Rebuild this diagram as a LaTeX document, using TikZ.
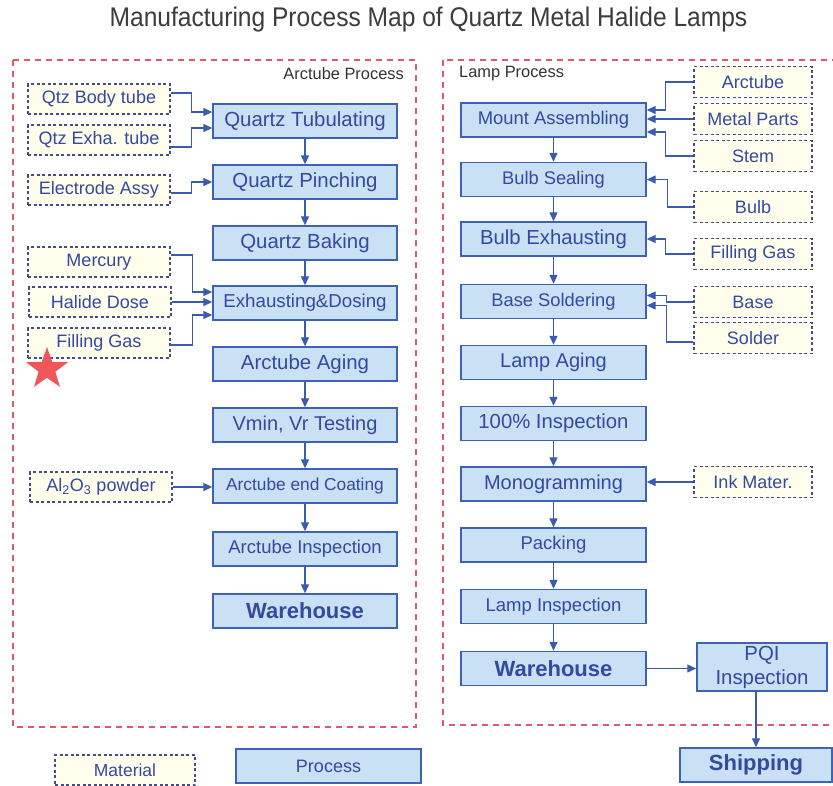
\documentclass[tikz,border=0pt]{standalone}
\usepackage{fontspec}
\setmainfont{Liberation Sans}
\usetikzlibrary{arrows.meta,shapes.geometric,calc}
\definecolor{procfill}{HTML}{C9E0F5}
\definecolor{procdraw}{HTML}{3D62B3}
\definecolor{txtblue}{HTML}{34499F}
\definecolor{matfill}{HTML}{FFFDEC}
\definecolor{matdraw}{HTML}{464C86}
\definecolor{framecol}{HTML}{DC5A6A}
\definecolor{conncol}{HTML}{3B5BAE}
\definecolor{titlegray}{HTML}{3C3C3C}
\definecolor{labgray}{HTML}{333333}
\definecolor{starred}{HTML}{F0555A}
\begin{document}
\begin{tikzpicture}[x=1pt,y=-1pt,
  fs/.style={font=\fontsize{#1}{#1}\selectfont},
  proc/.style={draw=procdraw, fill=procfill, line width=1.4pt, minimum width=184pt,
    minimum height=34pt, inner sep=0pt, text=txtblue, fs=18.5},
  procbold/.style={proc, font=\fontsize{22}{24}\selectfont\bfseries},
  mat/.style={draw=matdraw, fill=matfill, line width=1.3pt, dash pattern=on 3pt off 2.5pt,
    minimum width=142pt, minimum height=30pt, inner sep=0pt, text=txtblue, fs=18},
  rmat/.style={mat, minimum width=118pt, minimum height=31pt},
  arr/.style={draw=conncol, line width=1.3pt, -{Triangle[length=9pt,width=8pt]}},
  framebox/.style={draw=framecol, line width=1.4pt, dash pattern=on 6pt off 5pt},
  plab/.style={text=labgray, fs=16.4, inner sep=0pt}
]
\useasboundingbox (0,0) rectangle (833,785);
\fill[white] (0,0) rectangle (833,785);

% title
\node[text=titlegray, inner sep=0pt] (title) at (428.5,20)
  {\scalebox{0.91}[1]{\fontsize{27}{30}\selectfont Manufacturing Process Map of Quartz Metal Halide Lamps}};

% frames
\draw[framebox] (13,60) rectangle (416,727);
\draw[framebox] (443,60) rectangle (850,725);
\node[plab, anchor=east] (arclab) at (404,74) {Arctube Process};
\node[plab, anchor=west] (lamplab) at (459,74) {Lamp Process};

% left process column
\node[proc, fs=20.4] (ptub)   at (305,121) {Quartz Tubulating};
\node[proc, fs=20.4] (ppinch) at (305,182) {Quartz Pinching};
\node[proc, fs=20.4] (pbake)  at (305,243) {Quartz Baking};
\node[proc, fs=18.7] (pexh)   at (305,303) {Exhausting\&Dosing};
\node[proc, fs=20.4] (page)   at (305,364) {Arctube Aging};
\node[proc, fs=20]   (ptest)  at (305,425) {Vmin, Vr Testing};
\node[proc, fs=17.3] (pcoat)  at (305,486) {Arctube end Coating};
\node[proc, fs=18.5] (pinsp)  at (305,549) {Arctube Inspection};
\node[procbold]      (pware)  at (305,611) {Warehouse};

% left materials
\node[mat] (mbody) at (99,99)  {Qtz Body tube};
\node[mat] (mexha) at (99,140) {Qtz Exha. tube};
\node[mat] (melec) at (99,190) {Electrode Assy};
\node[mat] (mmerc) at (99,262) {Mercury};
\node[mat] (mhal)  at (100,302) {Halide Dose};
\node[mat] (mfill) at (99,343) {Filling Gas};
\node[mat] (malo)  at (101,487) {Al\textsubscript{2}O\textsubscript{3} powder};

\node[star, star points=5, star point ratio=2.5, fill=starred, minimum size=44pt, inner sep=0pt] (star) at (47,369) {};

% right process column
\node[proc, minimum width=185pt, fs=18.4] (pmount) at (553.5,120) {Mount Assembling};
\node[proc, minimum width=185pt, fs=18.3] (pbseal) at (553.5,179.5) {Bulb Sealing};
\node[proc, minimum width=185pt, fs=20.3] (pbexh)  at (553.5,239) {Bulb Exhausting};
\node[proc, minimum width=185pt, fs=18.3] (psold)  at (553.5,301.5) {Base Soldering};
\node[proc, minimum width=185pt, fs=20]   (plage)  at (553.5,362.5) {Lamp Aging};
\node[proc, minimum width=185pt, fs=20.3] (p100)   at (553.5,423.5) {100\% Inspection};
\node[proc, minimum width=185pt, fs=20]   (pmono)  at (553.5,484) {Monogramming};
\node[proc, minimum width=185pt, fs=18.5] (ppack)  at (553.5,545) {Packing};
\node[proc, minimum width=185pt, fs=18.5] (plinsp) at (553.5,606.5) {Lamp Inspection};
\node[procbold, minimum width=185pt]      (pware2) at (553.5,668.5) {Warehouse};
\node[proc, minimum width=130pt, minimum height=48pt, align=center,
      font=\fontsize{20.4}{24}\selectfont] (ppqi) at (762,667) {PQI\\Inspection};
\node[procbold, minimum width=152pt] (pship) at (756,765) {Shipping};

% right materials
\node[rmat] (rarc)   at (753,82)  {Arctube};
\node[rmat] (rmetal) at (753,119) {Metal Parts};
\node[rmat] (rstem)  at (753,156) {Stem};
\node[rmat] (rbulb)  at (753,207) {Bulb};
\node[rmat] (rfill)  at (753,254) {Filling Gas};
\node[rmat] (rbase)  at (753,302) {Base};
\node[rmat] (rsold)  at (753,338) {Solder};
\node[rmat] (rink)   at (753,482) {Ink Mater.};

% legend
\node[mat, minimum width=140pt, fs=17.5] (legmat) at (125,770) {Material};
\node[proc, minimum width=185pt, fs=18] (legproc) at (328.5,766) {Process};

% left connectors
\draw[arr] ([yshift=6pt]mbody.east) -- ++(21,0) |- ([yshift=9pt]ptub.west);
\draw[arr] ([yshift=-7pt]mexha.east) -- ++(21,0) |- ([yshift=-7pt]ptub.west);
\draw[arr] ([yshift=-3pt]melec.east) -- ++(21,0) |- (ppinch.west);
\draw[arr] ([yshift=7pt]mmerc.east) -- ++(22,0) |- ([yshift=11pt]pexh.west);
\draw[arr] (mhal.east) -- (mhal.east -| pexh.west);
\draw[arr] ([yshift=-2pt]mfill.east) -- ++(22,0) |- ([yshift=-12pt]pexh.west);
\draw[arr] (malo.east) -- (malo.east -| pcoat.west);

% right connectors
\draw[arr] (rarc.west) -- ++(-28,0) |- ([yshift=10pt]pmount.east);
\draw[arr] (rmetal.west) -- (rmetal.west -| pmount.east);
\draw[arr] (rstem.west) -- ++(-28,0) |- ([yshift=-12pt]pmount.east);
\draw[arr] (rbulb.west) -- ++(-26,0) |- (pbseal.east);
\draw[arr] (rfill.west) -- ++(-28,0) |- (pbexh.east);
\draw[arr] (rbase.west) -- ++(-27,0) |- ([yshift=6pt]psold.east);
\draw[arr] ([yshift=-4pt]rsold.west) -- ++(-27,0) |- ([yshift=-4pt]psold.east);
\draw[arr] (rink.west) -- (rink.west -| pmono.east);

% flow arrows
\foreach \a/\b in {ptub/ppinch, ppinch/pbake, pbake/pexh, pexh/page, page/ptest,
  ptest/pcoat, pcoat/pinsp, pinsp/pware,
  pmount/pbseal, pbseal/pbexh, pbexh/psold, psold/plage, plage/p100, p100/pmono,
  pmono/ppack, ppack/plinsp, plinsp/pware2}
  \draw[arr] (\a.south) -- (\b.north);
\draw[arr] (pware2.east) -- (pware2.east -| ppqi.west);
\draw[arr] (pship.north |- ppqi.south) -- (pship.north);
\end{tikzpicture}
\end{document}
